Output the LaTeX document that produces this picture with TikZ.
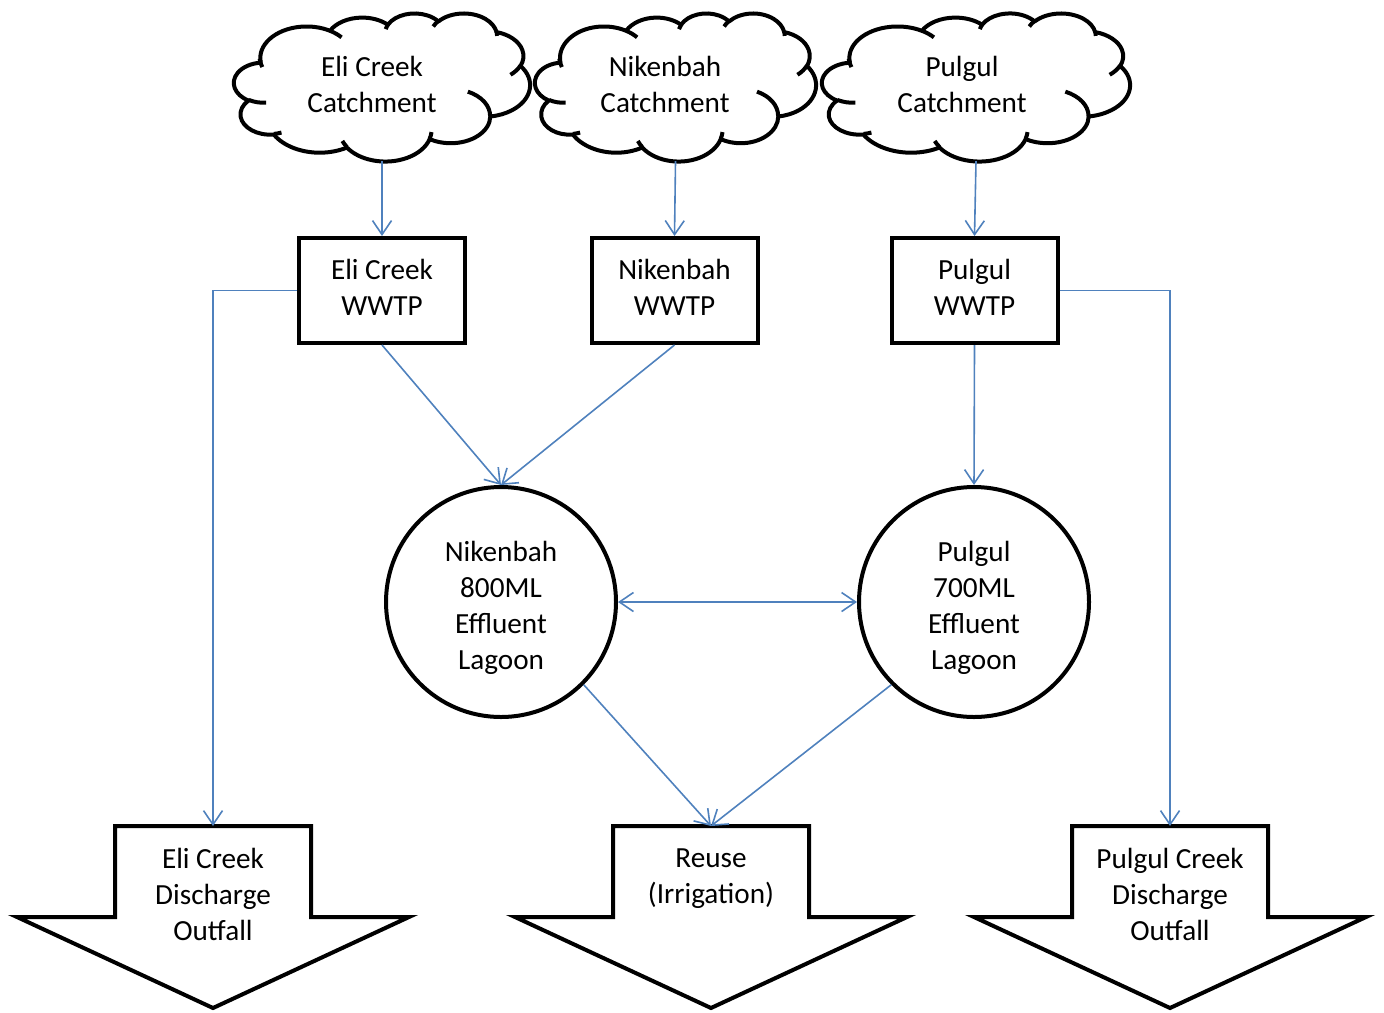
\documentclass[tikz,border=0pt]{standalone}
\usepackage{fontspec}
\setmainfont{Carlito}
\usetikzlibrary{arrows.meta}
\definecolor{flowblue}{RGB}{79,129,189}
% parametric angle of the point of an ellipse (radii #2, #3) seen at angle #1
\pgfmathdeclarefunction{parang}{3}{%
  \begingroup
    \pgfmathparse{atan2((#2)*sin(#1),(#3)*cos(#1))-(#1)}%
    \pgfmathparse{mod(\pgfmathresult+900,360)-180+(#1)}%
    \pgfmathsmuggle\pgfmathresult
  \endgroup}
\begin{document}
\begin{tikzpicture}[x=0.5pt,y=-0.5pt,
  every node/.style={font=\fontsize{14.6}{18}\selectfont, align=center},
  thick outline/.style={draw=black, line width=2pt, line join=miter},
  cloudline/.style={draw=black, line width=2pt, line join=round},
  plant/.style={thick outline, rectangle, minimum width=83pt, minimum height=52.5pt, inner sep=0pt},
  lagoon/.style={thick outline, circle, minimum size=115pt, inner sep=0pt},
  label text/.style={inner sep=0pt},
  oarc/.style n args={4}{x radius=#1, y radius=#2,
    start angle={parang(#3,#1,#2)}, end angle={parang((#3)+(#4),#1,#2)}},
  barb/.tip={Straight Barb[length=7pt,width=9.5pt,line width=0.8pt]},
  flow/.style={draw=flowblue, line width=0.8pt, -barb},
  twoway/.style={draw=flowblue, line width=0.8pt, barb-barb},
  % cloud outline on a 4320 x 4320 grid, #1 = horizontal unit
  catchment/.pic={
    \begin{scope}[x=#1, y=-0.0171296pt, shift={(-2160,-2160)}]
      \draw[cloudline] (390,1437)
        arc[oarc={675.3}{919.0}{-190.48748}{123.78053}]
        arc[oarc={533.3}{726.7}{-144.10238}{89.94523}]
        arc[oarc={436.5}{594.5}{-145.80792}{99.72302}]
        arc[oarc={485.7}{659.5}{-130.98607}{117.24173}]
        arc[oarc={533.3}{727.3}{-78.70888}{109.02692}]
        arc[oarc={677.5}{922.0}{-46.26725}{130.269}]
        arc[oarc={578.5}{786.7}{0.62502}{114.03333}]
        arc[oarc={675.2}{921.5}{22.4516}{115.17255}]
        arc[oarc={772.0}{1054.3}{66.24263}{75.71102}]
        arc[oarc={436.0}{591.8}{-274.94208}{146.73557}]
        arc[oarc={434.5}{594.5}{-246.8285}{152.51885}]
        -- cycle;
      \draw[cloudline]
        (469.3,2617.7) arc[oarc={434.5}{594.5}{86.742}{26.4295}]
        (692.8,3489.9) arc[oarc={436.0}{591.8}{73.61047}{11.44747}]
        (1647.8,3909.0) arc[oarc={675.2}{921.5}{137.62415}{14.0811}]
        (2882.7,3475.1) arc[oarc={675.2}{921.5}{6.45327}{15.99835}]
        (3412.9,2295.4) arc[oarc={578.5}{786.7}{-70.29235}{70.91737}]
        (4179.8,1535.4) arc[oarc={533.3}{727.3}{30.31803}{27.7515}]
        (3832.4,542.6) arc[oarc={485.7}{659.5}{-13.74433}{14.8589}]
        (2907.8,395.2) arc[oarc={485.7}{659.5}{-149.18145}{18.19537}]
        (2214.1,472.0) arc[oarc={436.5}{594.5}{-163.49427}{17.68635}]
        (1400.0,519.2) arc[oarc={675.3}{919.0}{-66.70695}{17.08687}]
        (412.7,1578.9) arc[oarc={675.3}{919.0}{153.59038}{20.62548}];
      \coordinate (-bottom) at (2160,4320);
    \end{scope}
  },
  % broad downward outlet arrow
  outfall/.pic={
    \draw[thick outline] (-98,826) -- (98,826) -- (98,917) -- (196,917) -- (0,1008)
      -- (-196,917) -- (-98,917) -- cycle;
    \coordinate (-top) at (0,826);
  },
]
\useasboundingbox (0,0) rectangle (1384,1012);

% catchments
\pic (ec) at (382,87) {catchment=0.0342593pt};
\pic (nc) at (675.5,87) {catchment=0.0325231pt};
\pic (pc) at (976,87) {catchment=0.0356481pt};
\node[label text] (ect) at (372,84) {Eli Creek\\Catchment};
\node[label text] (nct) at (665,84) {Nikenbah\\Catchment};
\node[label text] (pct) at (962,84) {Pulgul\\Catchment};

% treatment plants
\node[plant] (ew) at (382,290.5) {};
\node[plant] (nw) at (674.5,290.5) {};
\node[plant] (pw) at (974.5,290.5) {};
\node[label text] (ewt) at (382,287.5) {Eli Creek\\WWTP};
\node[label text] (nwt) at (674.5,287.5) {Nikenbah\\WWTP};
\node[label text] (pwt) at (974.5,287.5) {Pulgul\\WWTP};

% effluent lagoons
\node[lagoon] (nl) at (501,602) {};
\node[lagoon] (pl) at (974,602) {};
\node[label text] (nlt) at (501,607.5) {Nikenbah\\800ML\\Effluent\\Lagoon};
\node[label text] (plt) at (974,607.5) {Pulgul\\700ML\\Effluent\\Lagoon};

% outlets
\pic (eo) at (213,0) {outfall};
\pic (ro) at (711,0) {outfall};
\pic (po) at (1170,0) {outfall};
\node[label text] (eot) at (213,894) {Eli Creek\\Discharge\\Outfall};
\node[label text] (rot) at (711,879) {Reuse\\(Irrigation)};
\node[label text] (pot) at (1170,894) {Pulgul Creek\\Discharge\\Outfall};

% flows
\draw[flow] (ec-bottom) -- (ew.north);
\draw[flow] (nc-bottom) -- (nw.north);
\draw[flow] (pc-bottom) -- (pw.north);
\draw[flow] (ew.south) -- (nl.north);
\draw[flow] (nw.south) -- (nl.north);
\draw[flow] (pw.south) -- (pl.north);
\draw[twoway] (nl.east) -- (pl.west);
\draw[flow] (ew.west) -| (eo-top);
\draw[flow] (pw.east) -| (po-top);
\draw[flow] (nl.-45) -- (ro-top);
\draw[flow] (pl.-135) -- (ro-top);
\end{tikzpicture}
\end{document}
